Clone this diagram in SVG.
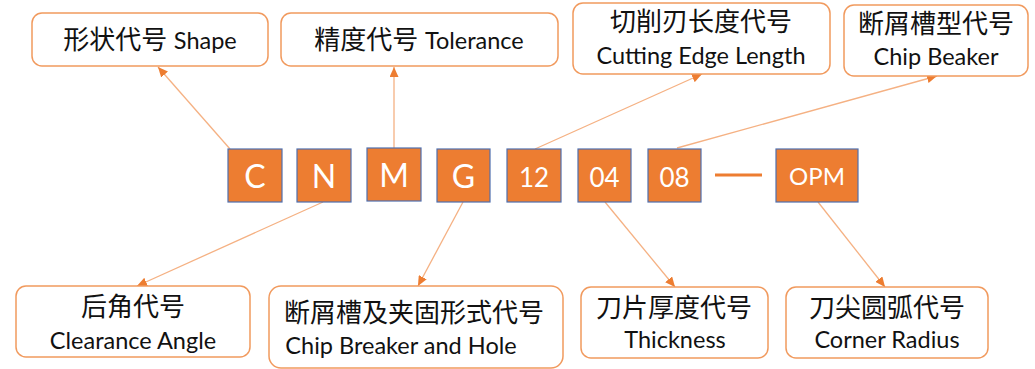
<svg xmlns="http://www.w3.org/2000/svg" width="1035" height="369" viewBox="0 0 1035 369">
<style>
.lbl{fill:#fff;stroke:#F19A5E;stroke-width:1.5}
.sq{fill:#ED7D31;stroke:#4F6FAE;stroke-width:1.2}
.t{font-family:Lato,"Noto Sans CJK SC",sans-serif;fill:#111;text-anchor:middle}
.cn{font-size:26px}
.en{font-size:23.5px}
.w{font-family:Lato,"Noto Sans",sans-serif;fill:#fff;text-anchor:middle}
.con{stroke:#F5B183;stroke-width:1.3;fill:none;marker-end:url(#ah)}
</style>
<defs>
<marker id="ah" markerUnits="userSpaceOnUse" markerWidth="11" markerHeight="9" refX="10" refY="4.5" orient="auto">
<path d="M0,0 L10,4.5 L0,9 z" fill="#ED7D31"/>
</marker>
</defs>
<rect width="1035" height="369" fill="#fff"/>
<g id="connectors">
<line class="con" x1="230" y1="149" x2="158" y2="67"/>
<line class="con" x1="394" y1="148" x2="394" y2="67"/>
<line class="con" x1="535" y1="149" x2="702" y2="74"/>
<line class="con" x1="677" y1="148" x2="937" y2="76"/>
<line class="con" x1="323" y1="202" x2="137" y2="286"/>
<line class="con" x1="463" y1="202" x2="418" y2="286"/>
<line class="con" x1="605" y1="202" x2="675" y2="287"/>
<line class="con" x1="818" y1="202" x2="885" y2="287"/>
<line x1="715" y1="175" x2="762" y2="175" stroke="#ED7D31" stroke-width="3"/>
</g>
<g id="shape"><rect class="lbl" x="32" y="13" width="236" height="53" rx="10"/><text class="t cn" x="150" y="49">形状代号 <tspan class="en">Shape</tspan></text></g>
<g id="tolerance"><rect class="lbl" x="281" y="13" width="277" height="53" rx="10"/><text class="t cn" x="419" y="49">精度代号 <tspan class="en">Tolerance</tspan></text></g>
<g id="cutting"><rect class="lbl" x="573" y="3" width="257" height="71" rx="10"/><text class="t cn" x="701" y="31">切削刃长度代号</text><text class="t en" x="701" y="64">Cutting Edge Length</text></g>
<g id="chipbeaker"><rect class="lbl" x="844" y="5" width="184" height="71" rx="10"/><text class="t cn" x="936" y="33">断屑槽型代号</text><text class="t en" x="936" y="65">Chip Beaker</text></g>
<g id="sqC"><rect class="sq" x="228" y="149" width="54" height="53"/><text class="w" x="255" y="188" font-size="32">C</text></g>
<g id="sqN"><rect class="sq" x="297" y="149" width="54" height="53"/><text class="w" x="324" y="188" font-size="32">N</text></g>
<g id="sqM"><rect class="sq" x="367" y="148" width="54" height="53"/><text class="w" x="394" y="187" font-size="32">M</text></g>
<g id="sqG"><rect class="sq" x="437" y="149" width="53" height="53"/><text class="w" x="463.5" y="188" font-size="32">G</text></g>
<g id="sq12"><rect class="sq" x="507" y="149" width="54" height="53"/><text class="w" x="534" y="187" font-size="26">12</text></g>
<g id="sq04"><rect class="sq" x="578" y="149" width="53" height="53"/><text class="w" x="604.5" y="187" font-size="26">04</text></g>
<g id="sq08"><rect class="sq" x="648" y="149" width="53" height="53"/><text class="w" x="674.5" y="187" font-size="26">08</text></g>
<g id="sqOPM"><rect class="sq" x="776" y="149" width="82" height="53"/><text class="w" x="817" y="185" font-size="24">OPM</text></g>
<g id="clearance"><rect class="lbl" x="16" y="286" width="234" height="71" rx="10"/><text class="t cn" x="133" y="316">后角代号</text><text class="t en" x="133" y="349">Clearance Angle</text></g>
<g id="chipbreakerhole"><rect class="lbl" x="269" y="286" width="294" height="82" rx="12"/><text class="t cn" x="414" y="322">断屑槽及夹固形式代号</text><text class="t en" x="401" y="354">Chip Breaker and Hole</text></g>
<g id="thickness"><rect class="lbl" x="581" y="287" width="187" height="71" rx="10"/><text class="t cn" x="674" y="317">刀片厚度代号</text><text class="t en" x="675" y="348">Thickness</text></g>
<g id="corner"><rect class="lbl" x="786" y="287" width="202" height="71" rx="10"/><text class="t cn" x="887" y="317">刀尖圆弧代号</text><text class="t en" x="887" y="348">Corner Radius</text></g>
</svg>
